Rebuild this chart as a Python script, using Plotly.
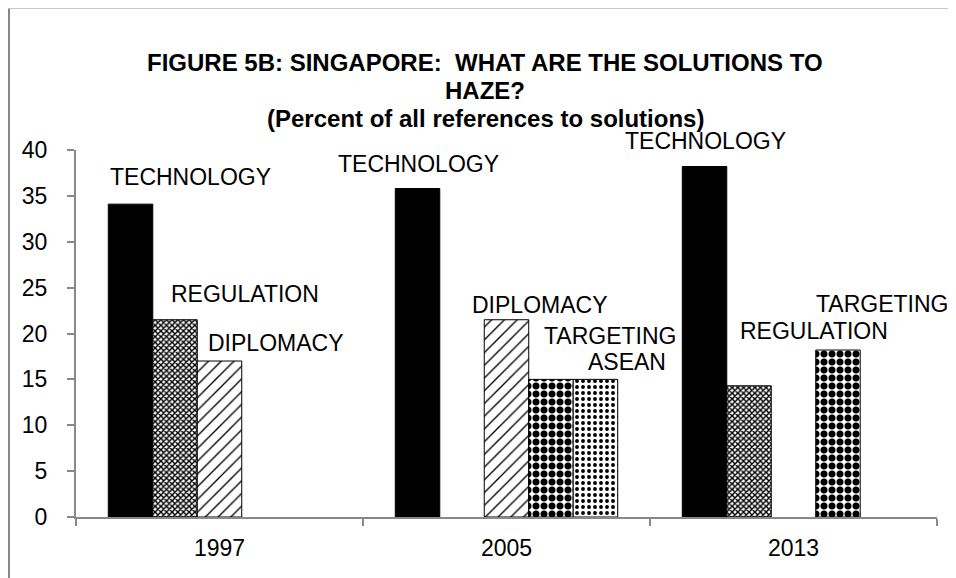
import plotly.graph_objects as go

years = ["1997", "2005", "2013"]
series_names = ["TECHNOLOGY", "REGULATION", "DIPLOMACY", "TARGETING", "ASEAN"]
technology = [34.1, 35.8, 38.2]
regulation = [21.5, None, 14.3]
diplomacy = [17.0, 21.5, None]
targeting = [None, 15.0, 18.2]
asean = [None, 15.0, None]
y_ticks = [0, 5, 10, 15, 20, 25, 30, 35, 40]

FONT = "Liberation Sans, Arial, sans-serif"
OFF = 8  # page body margin in the browser

W, H = 956 - OFF, 578 - OFF
AX_L, AX_R, AX_T, AX_B = 76 - OFF, 937 - OFF, 150 - OFF, 517 - OFF

def pat(shape, size, solidity):
    return dict(shape=shape, fgcolor="black", bgcolor="white", size=size, solidity=solidity,
                fillmode="replace", fgopacity=1)

styles = {
    "TECHNOLOGY": dict(color="black", pattern=None),
    "REGULATION": dict(color="black", pattern=pat("x", 4, 0.6)),
    "DIPLOMACY": dict(color="black", pattern=pat("/", 9, 0.15)),
    "TARGETING": dict(color="black", pattern=pat(".", 8, 0.6)),
    "ASEAN": dict(color="black", pattern=pat(".", 6, 0.33)),
}
data = {"TECHNOLOGY": technology, "REGULATION": regulation, "DIPLOMACY": diplomacy,
        "TARGETING": targeting, "ASEAN": asean}

fig = go.Figure()
for name in series_names:
    st = styles[name]
    marker = dict(color=st["color"], line=dict(color="black", width=1))
    if st["pattern"]:
        marker["pattern"] = st["pattern"]
    fig.add_trace(go.Bar(x=years, y=data[name], name=name, marker=marker,
                         showlegend=False, hoverinfo="skip"))

# label placement relative to bar tops: (series, year index, xshift px, yshift px)
label_specs = [
    ("TECHNOLOGY", 0, 60, 27), ("REGULATION", 0, 70, 26), ("DIPLOMACY", 0, 56, 18),
    ("TECHNOLOGY", 1, 1, 25), ("DIPLOMACY", 1, 33, 15), ("TARGETING", 1, 59, 43), ("ASEAN", 1, 31, 17),
    ("TECHNOLOGY", 2, 1, 26), ("REGULATION", 2, 65, 55), ("TARGETING", 2, 44, 46),
]
offsets = {n: (i - 2) for i, n in enumerate(series_names)}
bar_w_px = 44.6
for name, yi, dx, dy in label_specs:
    fig.add_annotation(x=yi, y=data[name][yi], xref="x", yref="y",
                       text=name, showarrow=False, xanchor="center", yanchor="middle",
                       xshift=offsets[name] * bar_w_px + dx, yshift=dy,
                       font=dict(family=FONT, size=23, color="black"))

def px_x(p):
    return (p - OFF - AX_L) / (AX_R - AX_L)

def px_y(p):
    return (AX_B - (p - OFF)) / (AX_B - AX_T)

title_lines = ["FIGURE 5B: SINGAPORE:  WHAT ARE THE SOLUTIONS TO", "HAZE?",
               "(Percent of all references to solutions)"]
for line, ypx in zip(title_lines, [62, 91, 119]):
    fig.add_annotation(x=px_x(485), y=px_y(ypx), xref="paper", yref="paper",
                       text="<b>%s</b>" % line, showarrow=False, xanchor="center", yanchor="middle",
                       font=dict(family=FONT, size=24, color="black"))

# chart frame (left and top edges)
fig.add_shape(type="line", xref="paper", yref="paper", x0=px_x(9), x1=px_x(9),
              y0=px_y(8.5), y1=px_y(600), line=dict(color="#888888", width=2))
fig.add_shape(type="line", xref="paper", yref="paper", x0=px_x(9), x1=px_x(960),
              y0=px_y(8.5), y1=px_y(8.5), line=dict(color="#c8c8c8", width=1))

fig.update_layout(
    width=W, height=H,
    margin=dict(l=AX_L, r=W - AX_R, t=AX_T, b=H - AX_B, autoexpand=False),
    paper_bgcolor="white", plot_bgcolor="white",
    barmode="group", bargap=0.225, bargroupgap=0,
    font=dict(family=FONT, size=23, color="black"),
)
fig.update_xaxes(type="category", range=[-0.5, 2.5], showline=True, linecolor="#888888", linewidth=2,
                 ticks="outside", tickcolor="#888888", ticklen=7, tickwidth=2, tickson="boundaries",
                 showgrid=False, tickfont=dict(family=FONT, size=23), ticklabelstandoff=9,
                 tickangle=0, automargin=False)
fig.update_yaxes(range=[0, 40], tickvals=y_ticks, showline=True, linecolor="#888888", linewidth=2,
                 ticks="outside", tickcolor="#888888", ticklen=7, tickwidth=2,
                 showgrid=False, zeroline=False, tickfont=dict(family=FONT, size=23),
                 ticklabelstandoff=15, automargin=False)

fig.write_html("out.html")
